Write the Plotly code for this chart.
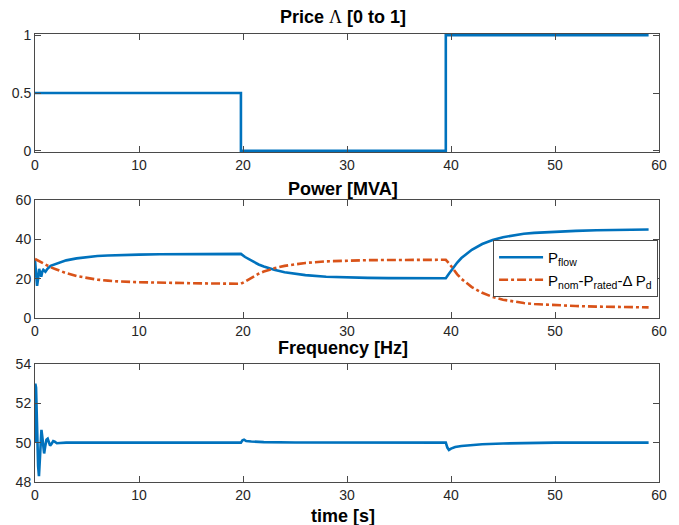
import plotly.graph_objects as go

# ---------------- data ----------------
price_t = [0, 19.8, 19.8, 39.5, 39.5, 59]
price_v = [0.5, 0.5, 0.0, 0.0, 1.0, 1.0]

flow_t = [0, 0.1, 0.2, 0.3, 0.4, 0.5, 0.6, 0.7, 0.8, 1.0, 1.2, 1.5, 2, 3, 4, 5, 6, 7, 8, 10,
          12, 14, 16, 18, 19.8, 20.2, 20.6, 21, 21.5, 22, 23, 24, 25, 26, 28, 30, 32, 34, 36,
          38, 39.5, 39.8, 40.2, 40.6, 41, 41.5, 42, 43, 44, 45, 46, 47, 48, 50, 52, 54, 56, 59]
flow_v = [29.5, 22.0, 16.3, 20.0, 25.0, 23.0, 21.0, 23.5, 24.5, 23.5, 25.0, 26.5, 27.5, 29.3,
          30.3, 31.0, 31.5, 31.8, 32.0, 32.2, 32.4, 32.5, 32.5, 32.6, 32.6, 31.0, 29.7, 28.5,
          27.2, 26.2, 24.5, 23.3, 22.4, 21.8, 21.0, 20.6, 20.4, 20.3, 20.25, 20.2, 20.2, 22.5,
          25.5, 28.2, 30.5, 32.8, 34.7, 37.6, 39.7, 41.1, 42.1, 42.8, 43.3, 43.9, 44.3, 44.6,
          44.8, 45.0]

ref_t = [0, 0.5, 1, 1.5, 2, 3, 4, 5, 6, 7, 8, 10, 12, 14, 16, 18, 19.8, 20.2, 20.6, 21, 21.5,
         22, 23, 24, 25, 26, 28, 30, 32, 34, 36, 38, 39.5, 39.8, 40.2, 40.6, 41, 41.5, 42, 43,
         44, 45, 46, 47, 48, 50, 52, 54, 56, 59]
ref_v = [30.0, 28.5, 27.0, 25.8, 24.8, 22.8, 21.3, 20.3, 19.5, 19.0, 18.6, 18.2, 17.9, 17.7,
         17.6, 17.5, 17.4, 18.5, 19.8, 21.2, 22.5, 23.6, 25.3, 26.5, 27.4, 28.0, 28.8, 29.2,
         29.4, 29.5, 29.6, 29.6, 29.6, 27.9, 24.9, 22.2, 19.9, 17.6, 15.7, 12.8, 10.7, 9.3,
         8.3, 7.6, 7.1, 6.5, 6.1, 5.8, 5.6, 5.4]

freq_t = [0, 0.03, 0.1, 0.2, 0.3, 0.38, 0.45, 0.55, 0.62, 0.7, 0.8, 0.88, 0.98, 1.1, 1.22,
          1.35, 1.45, 1.6, 1.75, 1.9, 2.1, 2.4, 3, 19.8, 19.95, 20.1, 20.3, 20.8, 22, 25, 39.5,
          39.65, 39.8, 40.0, 40.4, 41, 42, 43, 45, 48, 50, 59]
freq_v = [50.0, 53.0, 52.8, 50.5, 48.8, 48.3, 49.2, 50.4, 50.65, 50.3, 49.6, 49.45, 49.8,
          50.15, 50.2, 49.95, 49.85, 49.95, 50.08, 50.05, 49.97, 49.98, 50.0, 50.0, 50.12,
          50.15, 50.08, 50.06, 50.03, 50.01, 50.0, 49.75, 49.63, 49.7, 49.78, 49.83, 49.88,
          49.92, 49.96, 49.99, 50.0, 50.0]

x_ticks = [0, 10, 20, 30, 40, 50, 60]
price_ticks = [0, 0.5, 1]
price_ticktext = ["0", "0.5", "1"]
power_ticks = [0, 20, 40, 60]
freq_ticks = [48, 50, 52, 54]

BLUE = "#0072BD"
ORANGE = "#D95319"
AX = "#4a4a4a"
TXT = "#262626"
FONT = "Liberation Sans, Arial, Helvetica, sans-serif"

fig = go.Figure()
fig.add_trace(go.Scatter(x=price_t, y=price_v, mode="lines", line=dict(color=BLUE, width=2.6),
                         showlegend=False, xaxis="x", yaxis="y"))
fig.add_trace(go.Scatter(x=flow_t, y=flow_v, mode="lines", line=dict(color=BLUE, width=2.6),
                         name="P<sub>flow</sub>", xaxis="x2", yaxis="y2"))
fig.add_trace(go.Scatter(x=ref_t, y=ref_v, mode="lines",
                         line=dict(color=ORANGE, width=2.6, dash="dashdot"),
                         name="P<sub>nom</sub>-P<sub>rated</sub>-Δ P<sub>d</sub>",
                         xaxis="x2", yaxis="y2"))
fig.add_trace(go.Scatter(x=freq_t, y=freq_v, mode="lines", line=dict(color=BLUE, width=2.6),
                         showlegend=False, xaxis="x3", yaxis="y3"))

H = 448.0
def dom(top_px, bot_px):
    return [1 - (bot_px - 34) / H, 1 - (top_px - 34) / H]

common_x = dict(range=[0, 60], tickvals=x_ticks, ticks="inside", ticklen=6, tickcolor=AX,
                showline=True, linecolor=AX, linewidth=1, mirror="ticks", showgrid=False,
                zeroline=False, tickfont=dict(family=FONT, size=14, color=TXT))
common_y = dict(ticks="inside", ticklen=6, tickcolor=AX, showline=True, linecolor=AX,
                linewidth=1, mirror="ticks", showgrid=False, zeroline=False,
                tickfont=dict(family=FONT, size=14, color=TXT))

fig.update_layout(
    width=679, height=525,
    margin=dict(l=31, r=19, t=34, b=43),
    paper_bgcolor="white", plot_bgcolor="white",
    font=dict(family=FONT, color=TXT),
    xaxis=dict(common_x, domain=[0, 1], anchor="y"),
    yaxis=dict(common_y, domain=dom(34, 152), range=[-0.011, 1.011], tickvals=price_ticks,
               ticktext=price_ticktext, anchor="x"),
    xaxis2=dict(common_x, domain=[0, 1], anchor="y2"),
    yaxis2=dict(common_y, domain=dom(200, 318), range=[0, 60], tickvals=power_ticks, anchor="x2"),
    xaxis3=dict(common_x, domain=[0, 1], anchor="y3"),
    yaxis3=dict(common_y, domain=dom(364, 482), range=[48, 54], tickvals=freq_ticks, anchor="x3"),
    legend=dict(x=0.9985, xanchor="right", y=1 - (240 - 34) / H, yanchor="top",
                bgcolor="white", bordercolor=AX, borderwidth=1, itemwidth=44,
                font=dict(family=FONT, size=15, color="black"), tracegroupgap=0),
    showlegend=True,
)

def title(text, y_px):
    fig.add_annotation(text=text, xref="paper", yref="paper", x=0.493,
                       y=1 - (y_px - 34) / H, xanchor="center", yanchor="middle",
                       showarrow=False, font=dict(family=FONT, size=18, color="black"))

title("<b>Price <span style='font-family:Liberation Serif;font-weight:normal'>Λ</span> [0 to 1]</b>", 17)
title("<b>Power [MVA]</b>", 189)
title("<b>Frequency [Hz]</b>", 348)
title("<b>time [s]</b>", 516)

fig.write_html("out.html")
